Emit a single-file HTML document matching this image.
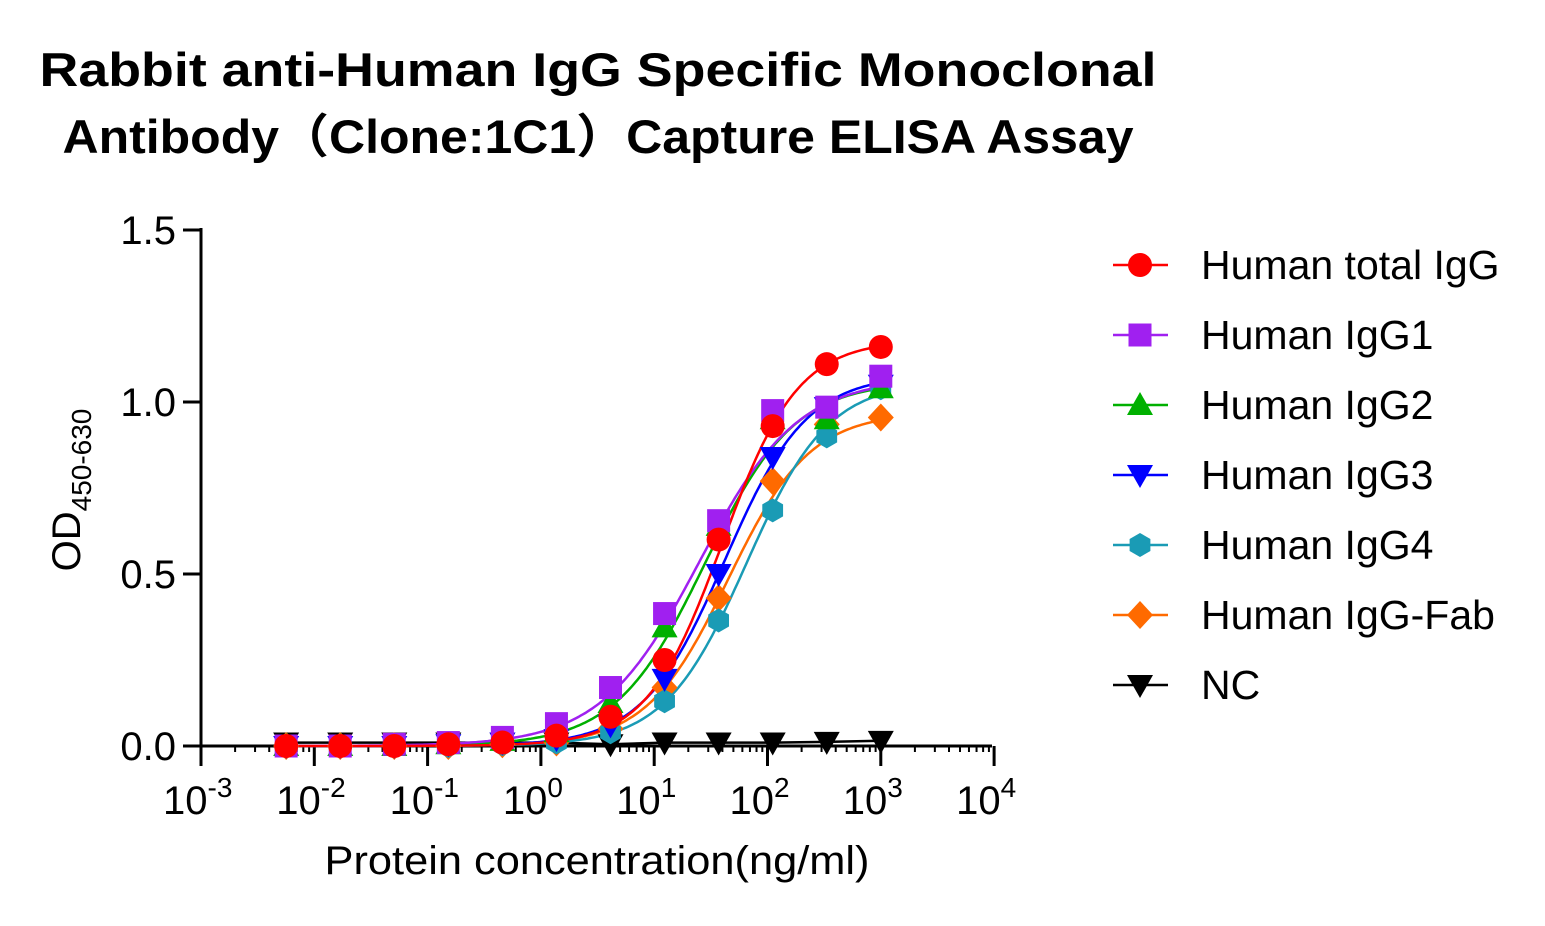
<!DOCTYPE html>
<html><head><meta charset="utf-8"><style>
html,body{margin:0;padding:0;background:#fff}
svg{display:block}
text{font-family:"Liberation Sans",Arial,sans-serif}
</style></head><body>
<svg id="s" width="1545" height="926" viewBox="0 0 1545 926" xmlns="http://www.w3.org/2000/svg">
<text x="598" y="86" font-size="47" font-weight="bold" text-anchor="middle" textLength="1117" lengthAdjust="spacingAndGlyphs">Rabbit anti-Human IgG Specific Monoclonal</text>
<text x="598" y="153" font-size="47" font-weight="bold" text-anchor="middle" textLength="1071" lengthAdjust="spacingAndGlyphs" style="font-family:'Liberation Sans','Noto Sans CJK SC',sans-serif">Antibody（Clone:1C1）Capture ELISA Assay</text>
<g stroke="#000" stroke-width="3" fill="none">
<line x1="201" y1="228" x2="201" y2="748"/>
<line x1="199" y1="746" x2="992" y2="746"/>
<line x1="183" y1="230" x2="201" y2="230"/>
<line x1="183" y1="402" x2="201" y2="402"/>
<line x1="183" y1="574" x2="201" y2="574"/>
<line x1="183" y1="746" x2="201" y2="746"/>
</g>
<g id="xt" stroke="#000" fill="none"></g>
<g font-size="40" text-anchor="end">
<text x="176" y="244">1.5</text><text x="176" y="416">1.0</text><text x="176" y="588">0.5</text><text x="176" y="760">0.0</text>
</g>
<g id="xl" font-size="40"></g>
<text transform="translate(80,490) rotate(-90)" font-size="40" text-anchor="middle">OD<tspan font-size="28" dy="11">450-630</tspan></text>
<text x="597" y="874" font-size="40" text-anchor="middle" textLength="545" lengthAdjust="spacingAndGlyphs">Protein concentration(ng/ml)</text>
<g id="cv" fill="none" stroke-width="2.5"></g>
<g id="mk"></g>
<g id="lg" font-size="41"></g>
</svg>
<script>
var NS="http://www.w3.org/2000/svg";
function el(t,a,p){var e=document.createElementNS(NS,t);for(var k in a)e.setAttribute(k,a[k]);p.appendChild(e);return e;}
function X(c){return 201+(Math.log10(c)+3)*113.3;}
function Y(v){return 746-v*344;}
var xt=document.getElementById('xt'),xl=document.getElementById('xl');
for(var d=-3;d<=4;d++){var x=X(Math.pow(10,d));
 el('line',{x1:x,y1:746,x2:x,y2:766,'stroke-width':3},xt);
 var t=el('text',{x:x-38,y:814},xl);t.textContent='10';
 var s=el('tspan',{dy:-17,'font-size':28},t);s.textContent=(d<0?'-':'')+Math.abs(d);
 if(d<4)for(var m=2;m<10;m++){var xm=X(m*Math.pow(10,d));el('line',{x1:xm,y1:746,x2:xm,y2:752,'stroke-width':2},xt);}
}
var conc=[];for(var k=11;k>=0;k--)conc.push(1000/Math.pow(3,k));
var S=[
 {c:'#ff0000',m:'circle',p:[1.18,40,1.3],d:[0,0,0,0.005,0.01,0.03,0.085,0.25,0.60,0.93,1.11,1.16],n:'Human total IgG'},
 {c:'#a020f0',m:'square',p:[1.07,25,1.0],d:[0,0,0.005,0.01,0.025,0.065,0.17,0.385,0.655,0.975,0.985,1.075],n:'Human IgG1'},
 {c:'#00b000',m:'tri',p:[1.06,28,1.1],d:[0,0,0,0.005,0.015,0.04,0.125,0.345,0.64,0.95,0.95,1.04],n:'Human IgG2'},
 {c:'#0000ff',m:'dtri',p:[1.08,42,1.2],d:[0,0,0,0.005,0.01,0.02,0.06,0.195,0.50,0.84,0.985,1.05],n:'Human IgG3'},
 {c:'#1a9bb5',m:'hex',p:[1.06,65,1.2],d:[0,0,0,0,0.005,0.01,0.04,0.13,0.365,0.685,0.90,1.04],n:'Human IgG4'},
 {c:'#ff6a00',m:'dia',p:[0.97,45,1.2],d:[0,0,0,0,0.005,0.01,0.05,0.17,0.43,0.77,0.935,0.955],n:'Human IgG-Fab'},
 {c:'#000000',m:'dtri',p:null,d:[0.01,0.01,0.01,0.01,0.01,0.01,0.005,0.01,0.01,0.01,0.012,0.015],n:'NC'}
];
function marker(g,m,x,y,c){
 if(m=='circle')el('circle',{cx:x,cy:y,r:12,fill:c},g);
 else if(m=='square')el('rect',{x:x-11.5,y:y-11.5,width:23,height:23,fill:c},g);
 else if(m=='tri')el('polygon',{points:(x)+','+(y-13)+' '+(x+13)+','+(y+10)+' '+(x-13)+','+(y+10),fill:c},g);
 else if(m=='dtri')el('polygon',{points:(x)+','+(y+13)+' '+(x+13)+','+(y-10)+' '+(x-13)+','+(y-10),fill:c},g);
 else if(m=='hex'){var p=[];for(var i=0;i<6;i++){var a=Math.PI/6+i*Math.PI/3;p.push((x+12*Math.cos(a))+','+(y+12*Math.sin(a)));}el('polygon',{points:p.join(' '),fill:c},g);}
 else if(m=='dia')el('polygon',{points:x+','+(y-14)+' '+(x+13)+','+y+' '+x+','+(y+14)+' '+(x-13)+','+y,fill:c},g);
}
var cv=document.getElementById('cv'),mk=document.getElementById('mk'),lg=document.getElementById('lg');
for(var i=S.length-1;i>=0;i--){var s=S[i];var pts=[];
 if(s.p){for(var lx=Math.log10(conc[0]);lx<=3.0001;lx+=0.02){var c=Math.pow(10,lx);var v=s.p[0]/(1+Math.pow(s.p[1]/c,s.p[2]));pts.push(X(c).toFixed(1)+','+Y(v).toFixed(1));}}
 else{for(var j=0;j<12;j++)pts.push(X(conc[j]).toFixed(1)+','+Y(s.d[j]).toFixed(1));}
 el('polyline',{points:pts.join(' '),stroke:s.c},cv);
}
var order=[6,5,4,3,2,1,0];
order.forEach(function(i){var s=S[i];for(var j=0;j<12;j++)marker(mk,s.m,X(conc[j]),Y(s.d[j]),s.c);});
S.forEach(function(s,i){var y=265+i*70;
 el('line',{x1:1113,y1:y,x2:1168,y2:y,stroke:s.c,'stroke-width':2.5},lg);
 marker(lg,s.m,1140,y,s.c);
 var t=el('text',{x:1201,y:y+14},lg);t.textContent=s.n;});
</script>
</body></html>
